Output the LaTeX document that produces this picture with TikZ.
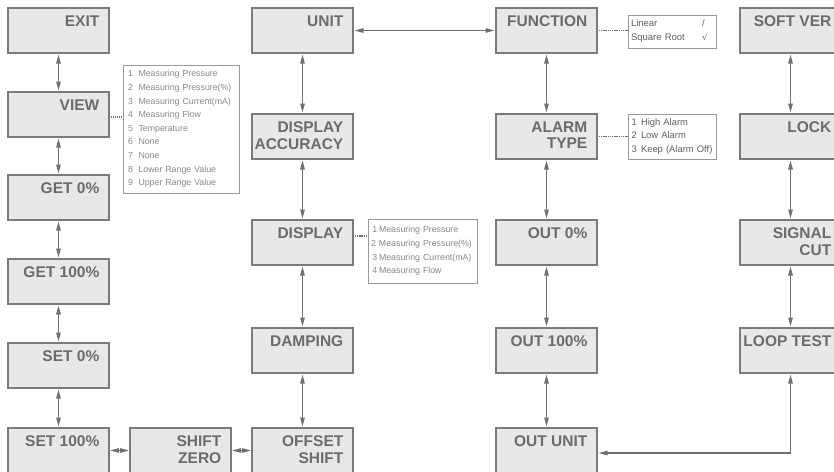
\documentclass[tikz,border=0pt]{standalone}
\usepackage{fontspec}
\setmainfont{Liberation Sans}
\newfontfamily\symfont{DejaVu Sans}
\usetikzlibrary{arrows.meta}
\definecolor{boxfill}{HTML}{E8E8E8}
\definecolor{boxline}{HTML}{7A7A7A}
\definecolor{boxtext}{HTML}{6B6B6B}
\definecolor{arrowc}{HTML}{707070}
\definecolor{infoline}{HTML}{9A9A9A}
\definecolor{infotext}{HTML}{888888}
\definecolor{infodark}{HTML}{606060}
\newcommand{\numl}[3]{\makebox[#1][l]{#2}#3}
\begin{document}
\begin{tikzpicture}[x=1pt,y=-1pt,
  menubox/.style={draw=boxline, fill=boxfill, line width=1.3pt, minimum width=101pt, minimum height=45pt, inner sep=0pt, outer sep=0pt, anchor=north west},
  menutext/.style={font=\fontsize{15.5}{16.5}\selectfont\bfseries, text=boxtext, align=right, inner sep=0pt, anchor=north east},
  link/.style={draw=arrowc, line width=1.3pt, {Triangle[length=9pt,width=4.5pt]}-{Triangle[length=9pt,width=4.5pt]}, shorten <=1.5pt, shorten >=1.5pt},
  infobox/.style={draw=infoline, line width=0.9pt, fill=white, outer sep=0pt, inner ysep=0pt, anchor=north west, align=left},
  dotlink/.style={draw=arrowc, line width=1.2pt, dash pattern=on 1pt off 1pt},
  dashdotlink/.style={draw=arrowc, line width=1.2pt, dash pattern=on 1pt off 1pt on 1pt off 1pt on 1pt off 1pt on 4pt off 1pt}
]
\useasboundingbox (0,0) rectangle (834,471);
\clip (0,0) rectangle (834,471);

% column 1
\node[menubox] (exit)    at (8,8)   {};
\node[menubox] (view)    at (8,92)  {};
\node[menubox] (get0)    at (8,175) {};
\node[menubox] (get100)  at (8,259) {};
\node[menubox] (set0)    at (8,343) {};
\node[menubox] (set100)  at (8,428) {};
% column 2
\node[menubox] (shiftzero) at (130,428) {};
% column 3
\node[menubox] (unit)     at (252,8)   {};
\node[menubox] (dispacc)  at (252,114) {};
\node[menubox] (display)  at (252,220) {};
\node[menubox] (damping)  at (252,328) {};
\node[menubox] (offset)   at (252,428) {};
% column 4
\node[menubox] (function) at (496,8)   {};
\node[menubox] (alarm)    at (496,114) {};
\node[menubox] (out0)     at (496,220) {};
\node[menubox] (out100)   at (496,328) {};
\node[menubox] (outunit)  at (496,428) {};
% column 5
\node[menubox] (softver)  at (740,8)   {};
\node[menubox] (lock)     at (740,114) {};
\node[menubox] (signal)   at (740,220) {};
\node[menubox] (looptest) at (740,328) {};

% texts
\foreach \b/\t in {exit/EXIT, view/VIEW, get0/GET 0\%, get100/GET 100\%, set0/SET 0\%, set100/SET 100\%,
  shiftzero/SHIFT\\ZERO, unit/UNIT, dispacc/DISPLAY\\ACCURACY, display/DISPLAY, damping/DAMPING, offset/OFFSET\\SHIFT,
  function/FUNCTION, alarm/ALARM\\TYPE, out0/OUT 0\%, out100/OUT 100\%, outunit/OUT UNIT,
  softver/SOFT VER, lock/LOCK, signal/SIGNAL\\CUT, looptest/LOOP TEST}
  \node[menutext] (\b-t) at ([xshift=-9.5pt,yshift=-7.5pt]\b.north east) {\t};

% vertical links
\draw[link] (exit.south) -- (view.north);
\draw[link] (view.south) -- (get0.north);
\draw[link] (get0.south) -- (get100.north);
\draw[link] (get100.south) -- (set0.north);
\draw[link] (set0.south) -- (set100.north);
\draw[link] (unit.south) -- (dispacc.north);
\draw[link] (dispacc.south) -- (display.north);
\draw[link] (display.south) -- (damping.north);
\draw[link] (damping.south) -- (offset.north);
\draw[link] (function.south) -- (alarm.north);
\draw[link] (alarm.south) -- (out0.north);
\draw[link] (out0.south) -- (out100.north);
\draw[link] (out100.south) -- (outunit.north);
\draw[link] (softver.south) -- (lock.north);
\draw[link] (lock.south) -- (signal.north);
\draw[link] (signal.south) -- (looptest.north);
% horizontal links
\draw[link] (unit.east) -- (function.west);
\draw[link, shorten <=1pt, shorten >=1pt] (set100.east) -- (shiftzero.west);
\draw[link, shorten <=1pt, shorten >=1pt] (shiftzero.east) -- (offset.west);
\draw[link] (looptest.south) |- ([yshift=-2.5pt]outunit.east);

% info boxes
\node[infobox, minimum width=116pt, minimum height=128pt, text width=106pt, inner xsep=5pt,
      font=\fontsize{8.8}{13.6}\selectfont, text=infotext] (viewlist) at (123,65) {%
  \numl{10.5pt}{1}{Measuring Pressure}\\
  \numl{10.5pt}{2}{Measuring Pressure(\%)}\\
  \numl{10.5pt}{3}{Measuring Current(mA)}\\
  \numl{10.5pt}{4}{Measuring Flow}\\
  \numl{10.5pt}{5}{Temperature}\\
  \numl{10.5pt}{6}{None}\\
  \numl{10.5pt}{7}{None}\\
  \numl{10.5pt}{8}{Lower Range Value}\\
  \numl{10.5pt}{9}{Upper Range Value}};
\node[infobox, minimum width=109pt, minimum height=64pt, text width=103pt, inner xsep=3pt,
      font=\fontsize{8.8}{13.7}\selectfont, text=infotext] (displist) at (368,219) {%
  \numl{8pt}{\,1}{Measuring Pressure}\\
  \numl{8pt}{2}{Measuring Pressure(\%)}\\
  \numl{8pt}{\,3}{Measuring Current(mA)}\\
  \numl{8pt}{\,4}{Measuring Flow}};
\node[infobox, minimum width=88pt, minimum height=33pt, text width=82pt, inner xsep=3pt,
      font=\fontsize{9.5}{14}\selectfont, text=infodark] (funcinfo) at (628,15) {%
  \makebox[71pt][l]{Linear}/\\
  \makebox[71pt][l]{Square Root}{\symfont\fontsize{8.5}{14}\selectfont √}};
\node[infobox, minimum width=88pt, minimum height=45pt, text width=84pt, inner xsep=2pt,
      font=\fontsize{9.4}{13.5}\selectfont, text=infodark] (alarminfo) at (628,114) {%
  \numl{11pt}{\,1}{High Alarm}\\
  \numl{11pt}{\,2}{Low Alarm}\\
  \numl{11pt}{\,3}{Keep (Alarm Off)}};

% dotted connectors
\draw[dotlink] ([yshift=-2.5pt]view.east) -- ([yshift=-2.5pt]view.east -| viewlist.west);
\draw[dashdotlink] ([yshift=6.5pt]display.east) -- ([yshift=6.5pt]display.east -| displist.west);
\draw[dashdotlink] (function.east) -- (function.east -| funcinfo.west);
\draw[dashdotlink] (alarm.east) -- (alarm.east -| alarminfo.west);
\end{tikzpicture}
\end{document}
